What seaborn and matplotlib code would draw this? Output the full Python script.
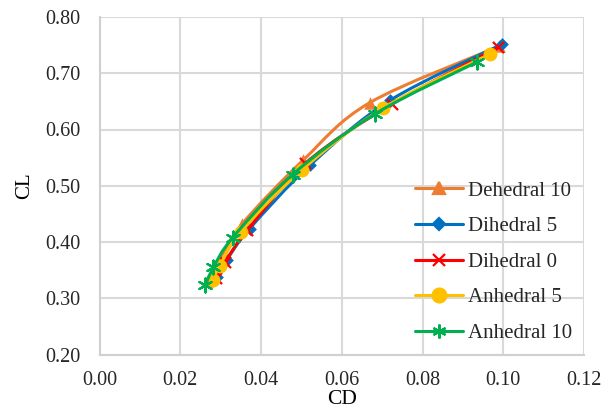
import numpy as np
import pandas as pd
import seaborn as sns
import matplotlib
matplotlib.use("Agg")
import matplotlib.pyplot as plt
from matplotlib.path import Path
from matplotlib.patches import PathPatch
from matplotlib.lines import Line2D

# Lift coefficient vs drag coefficient for five wing dihedral settings
series_names = ["Dehedral 10", "Dihedral 5", "Dihedral 0", "Anhedral 5", "Anhedral 10"]

cd_dehedral10 = [0.0265, 0.0290, 0.0353, 0.0505, 0.0670, 0.0990]
cl_dehedral10 = [0.330, 0.360, 0.432, 0.546, 0.648, 0.748]

cd_dihedral5 = [0.0290, 0.0315, 0.0372, 0.0522, 0.0720, 0.0998]
cl_dihedral5 = [0.338, 0.368, 0.424, 0.537, 0.652, 0.752]

cd_dihedral0 = [0.0288, 0.0310, 0.0366, 0.0510, 0.0724, 0.0988]
cl_dihedral0 = [0.336, 0.364, 0.421, 0.540, 0.645, 0.746]

cd_anhedral5 = [0.0280, 0.0298, 0.0350, 0.0501, 0.0702, 0.0967]
cl_anhedral5 = [0.332, 0.358, 0.418, 0.528, 0.638, 0.734]

cd_anhedral10 = [0.0262, 0.0282, 0.0330, 0.0478, 0.0683, 0.0935]
cl_anhedral10 = [0.323, 0.355, 0.408, 0.520, 0.628, 0.720]

x_ticks = [0.00, 0.02, 0.04, 0.06, 0.08, 0.10, 0.12]
y_ticks = [0.20, 0.30, 0.40, 0.50, 0.60, 0.70, 0.80]

colors = ["#ED7D31", "#0070C0", "#FF0000", "#FFC000", "#00B050"]
markers = ["^", "D", "x", "o", (6, 2, 0)]
marker_sizes = [9, 6.5, 8, 10, 10]

cd_all = [cd_dehedral10, cd_dihedral5, cd_dihedral0, cd_anhedral5, cd_anhedral10]
cl_all = [cl_dehedral10, cl_dihedral5, cl_dihedral0, cl_anhedral5, cl_anhedral10]

df = pd.concat(
    [pd.DataFrame({"CD": cd, "CL": cl, "series": name})
     for name, cd, cl in zip(series_names, cd_all, cl_all)],
    ignore_index=True,
)

sns.set_theme(style="white")
plt.rcParams["font.family"] = ["Liberation Serif", "DejaVu Serif"]

fig = plt.figure(figsize=(6.15, 4.09), dpi=100)
ax = fig.add_axes([99.6 / 615, 1 - 354.5 / 409, (584 - 99.6) / 615, (354.5 - 17) / 409])


def smooth_path(xs, ys):
    """Cubic Bezier path through the points (Catmull-Rom style tangents)."""
    pts = np.column_stack([xs, ys])
    n = len(pts)
    verts = [pts[0]]
    codes = [Path.MOVETO]
    for i in range(n - 1):
        p0 = pts[i - 1] if i > 0 else pts[i]
        p1 = pts[i]
        p2 = pts[i + 1]
        p3 = pts[i + 2] if i + 2 < n else pts[i + 1]
        c1 = p1 + (p2 - p0) / 6.0
        c2 = p2 - (p3 - p1) / 6.0
        verts += [c1, c2, p2]
        codes += [Path.CURVE4] * 3
    return Path(verts, codes)


for k, name in enumerate(series_names):
    sub = df[df["series"] == name]
    patch = PathPatch(smooth_path(sub["CD"].values, sub["CL"].values),
                      facecolor="none", edgecolor=colors[k], lw=2.2,
                      zorder=2 + k * 0.1, capstyle="round", joinstyle="round")
    ax.add_patch(patch)
    sns.scatterplot(data=sub, x="CD", y="CL", ax=ax, color=colors[k],
                    marker=markers[k], s=marker_sizes[k] ** 2,
                    linewidth=1.6 if markers[k] in ("x",) or isinstance(markers[k], tuple) else 0,
                    edgecolor=colors[k], zorder=2.05 + k * 0.1, legend=False)

ax.set_xlim(0, 0.12)
ax.set_ylim(0.2, 0.8)
ax.set_xticks(x_ticks)
ax.set_yticks(y_ticks)
ax.set_xticklabels([f"{v:.2f}" for v in x_ticks])
ax.set_yticklabels([f"{v:.2f}" for v in y_ticks])
ax.tick_params(axis="x", length=0, labelsize=14.5, colors="#262626", pad=12)
ax.tick_params(axis="y", length=0, labelsize=14.5, colors="#262626", pad=14)
ax.grid(True, color="#d9d9d9", lw=1.5)
ax.set_axisbelow(True)
for side in ["top", "right"]:
    ax.spines[side].set_visible(False)
for side in ["left", "bottom"]:
    ax.spines[side].set_color("#d0d0d0")
    ax.spines[side].set_linewidth(1.5)

ax.set_xlabel("CD", fontsize=15.5, color="#000000", labelpad=0)
ax.set_ylabel("CL", fontsize=15, color="#000000", labelpad=8)

handles = [
    Line2D([0], [0], color=colors[k], lw=2.2, marker=markers[k],
           markersize=marker_sizes[k], markeredgewidth=1.6)
    for k in range(len(series_names))
]
leg = fig.legend(handles, series_names, loc="upper left",
                 bbox_to_anchor=(415 / 615, 1 - 181 / 409), frameon=False,
                 fontsize=15, handlelength=2.3, handletextpad=0.25,
                 labelspacing=0.77, borderpad=0, borderaxespad=0)
for t in leg.get_texts():
    t.set_color("#262626")

fig.savefig("out.png", dpi=100)
